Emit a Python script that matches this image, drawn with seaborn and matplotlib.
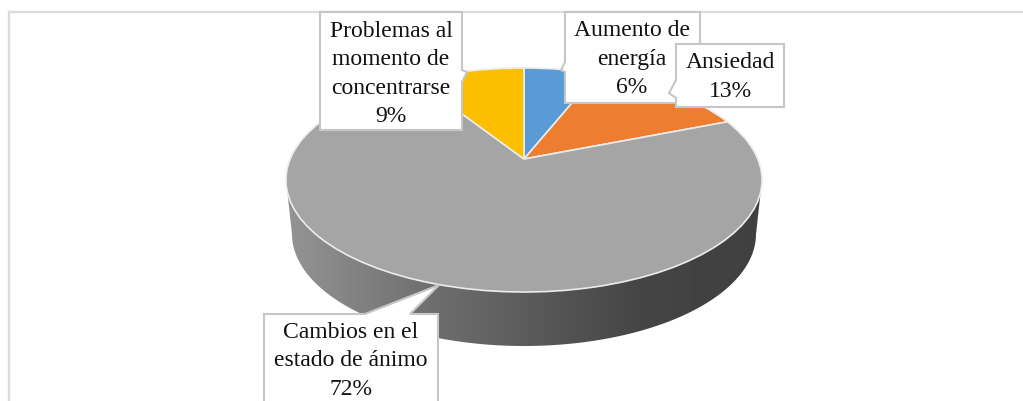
import numpy as np
import matplotlib
matplotlib.use("Agg")
import matplotlib.pyplot as plt
import seaborn as sns
from matplotlib.patches import Polygon
from matplotlib.transforms import Transform

categorias = ["Aumento de\nenergía", "Ansiedad", "Cambios en el\nestado de ánimo", "Problemas al\nmomento de\nconcentrarse"]
porcentajes = [6, 13, 72, 9]
colores = ["#5B9BD5", "#ED7D31", "#A5A5A5", "#FBBF00"]

# gradiente de la pared lateral (x en pixeles, nivel de gris)
grad_x = [286, 306, 433, 638, 762]
grad_gris = [0.58, 0.56, 0.43, 0.27, 0.25]

sns.set_theme(style="white")
plt.rcParams["font.family"] = ["Liberation Serif", "DejaVu Serif"]

fig = plt.figure(figsize=(10.23, 4.01), dpi=100)
ax = fig.add_axes([0, 0, 1, 1])


# perspectiva: circulo unidad -> elipse con el vertice desplazado
class Perspectiva(Transform):
    input_dims = 2
    output_dims = 2

    def transform_non_affine(self, xy):
        x, y = np.asarray(xy).T
        d = 1 + 0.1875 * y
        return np.column_stack([524 + 233.8 * x / d, 159 - 108.06 * y / d])


wedges, _ = ax.pie(porcentajes, colors=sns.color_palette(colores), startangle=90, counterclock=False,
                   wedgeprops={"edgecolor": "#ececec", "linewidth": 1.2})
ax.set_aspect("auto")
ax.set_xlim(0, 1023)
ax.set_ylim(401, 0)
ax.axis("off")
for w in wedges:
    w.set_transform(Perspectiva() + ax.transData)
    w.set_zorder(3)

# pared lateral
t = np.linspace(0, np.pi, 200)
arriba = np.column_stack([524 + 238 * np.cos(t), 180 + 112 * np.sin(t)])
abajo = np.column_stack([524 + 232 * np.cos(t), 234 + 112 * np.sin(t)])
pared = Polygon(np.vstack([arriba, abajo[::-1]]), closed=True, transform=ax.transData, facecolor="none", edgecolor="none")
ax.add_patch(pared)
xs = np.arange(280, 770)
img = ax.imshow(np.interp(xs, grad_x, grad_gris)[None, :], cmap="gray", vmin=0, vmax=1, aspect="auto",
                extent=[280, 770, 350, 170], zorder=2)
img.set_clip_path(pared)
ax.set_xlim(0, 1023)
ax.set_ylim(401, 0)

# marco del grafico
ax.plot([9, 9, 1023], [401, 11.5, 11.5], color="#dcdcdc", lw=1.7, zorder=1)

# etiquetas con flecha
gris_borde = "#c6c6c6"
cajas = [
    [(565, 12), (700, 12), (700, 103), (565, 103), (565, 72), (561, 70), (565, 62)],
    [(676, 44), (784, 44), (784, 107), (676, 107), (676, 98), (669, 93), (676, 80)],
    [(264, 314), (365, 314), (439, 285), (410, 314), (438, 314), (438, 403), (264, 403)],
    [(320, 12), (462, 12), (462, 70), (467, 72), (462, 82), (462, 130), (320, 130)],
]
centros = [(632, 59), (730, 77), (351, 361), (391, 74)]
for caja, (cx, cy), cat, pct in zip(cajas, centros, categorias, porcentajes):
    ax.add_patch(Polygon(caja, closed=True, facecolor="white", edgecolor=gris_borde, lw=1.5, zorder=4))
    ax.text(cx, cy, f"{cat}\n{pct}%", ha="center", va="center", fontsize=17, color="#111111",
            linespacing=1.45, zorder=5)

fig.savefig("out.png", dpi=100)
